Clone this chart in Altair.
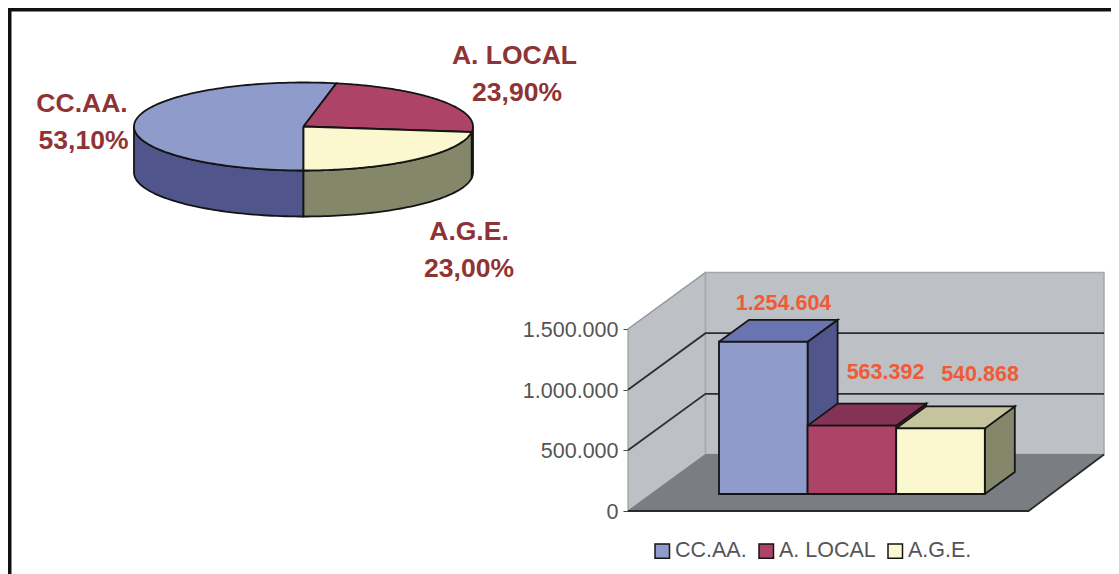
import numpy as np
import pandas as pd
import altair as alt

# ---- values
categories = ["CC.AA.", "A. LOCAL", "A.G.E."]
shares = [53.10, 23.90, 23.00]
amounts = [1254604, 563392, 540868]
axis_ticks = [0, 500000, 1000000, 1500000]

# ---- styles
top_colors = ["#8f9ccb", "#ad4468", "#fbf8cf"]
side_colors = ["#50558c", "#6e2c44", "#85876a"]
bar_top_colors = ["#6a74b0", "#843255", "#c6c49c"]
bar_side_colors = ["#50558c", "#6e2c44", "#85876a"]
INK = "#141414"
FONT = "Liberation Sans"

# ---- layout (page pixels)
W, H = 1103, 566
PIE_CX, PIE_CY, PIE_A, PIE_B, PIE_D = 303.5, 126.5, 169.5, 44, 46
AX_X, AX_TOP, AX_BOTTOM = 628, 329, 511
UNITS_PER_PX = axis_ticks[-1] / (AX_BOTTOM - AX_TOP)
WALL_DX, WALL_DV = 77.5, 56.5 * UNITS_PER_PX
WALL_RIGHT, FLOOR_RIGHT = 1104, 1028.5
BAR_LEFT, BAR_W = 719, 88.6
BAR_BASE = 17 * UNITS_PER_PX
BAR_DX, BAR_DV = 30, 22 * UNITS_PER_PX


def ell(angles, dy=0):
    t = np.radians(np.asarray(angles, dtype=float))
    return list(zip(PIE_CX + PIE_A * np.sin(t), PIE_CY - PIE_B * np.cos(t) + dy))


px_rows, val_rows = [], []


def add(rows, pts, fill, stroke=INK, sw=1.8):
    sid = len({r["shape"] for r in rows})
    for i, (x, y) in enumerate(pts):
        rows.append(dict(shape=f"s{sid:03d}", i=i, px=float(x), py=float(y),
                         fill=fill, stroke=stroke, sw=sw))


# pie: slices start straight down and run clockwise, as in the picture
start = 180.0
edges = [start]
for s in shares:
    edges.append(edges[-1] + s * 3.6)

for k in range(3):
    a0, a1 = edges[k], edges[k + 1]
    # side wall: only the part of the rim in front (90..270 degrees, mod 360)
    for off in (0, 360):
        lo, hi = max(a0, 90 + off), min(a1, 270 + off)
        if hi > lo:
            arc = np.linspace(lo, hi, 60)
            pts = ell(arc) + ell(arc[::-1], PIE_D)
            pts.append(pts[0])
            add(px_rows, pts, side_colors[k])
for k in range(3):
    arc = np.linspace(edges[k], edges[k + 1], 120)
    pts = [(PIE_CX, PIE_CY)] + ell(arc) + [(PIE_CX, PIE_CY)]
    add(px_rows, pts, top_colors[k])

# frame (open on the right and at the bottom)
add(px_rows, [(9.5, 580), (9.5, 9.5), (1125, 9.5)], "transparent", "#111111", 4)
px_rows_df = pd.DataFrame(px_rows)

# walls and floor of the 3-D box
Y1 = axis_ticks[-1]
add(val_rows, [(AX_X, 0), (AX_X, Y1), (AX_X + WALL_DX, Y1 + WALL_DV), (AX_X + WALL_DX, WALL_DV), (AX_X, 0)],
    "#bdc0c4", "#9a9da0", 1.2)
add(val_rows, [(AX_X + WALL_DX, WALL_DV), (AX_X + WALL_DX, Y1 + WALL_DV), (WALL_RIGHT, Y1 + WALL_DV),
               (WALL_RIGHT, WALL_DV), (AX_X + WALL_DX, WALL_DV)], "#bdc0c4", "#a5a8ab", 1.5)
add(val_rows, [(AX_X, 0), (AX_X + WALL_DX, WALL_DV), (WALL_RIGHT, WALL_DV), (FLOOR_RIGHT, 0), (AX_X, 0)],
    "#7a7e82", "#7a7e82", 1)
add(val_rows, [(AX_X, 0), (FLOOR_RIGHT, 0), (WALL_RIGHT, WALL_DV)], "transparent", "#2a2a2a", 1.8)
for t in axis_ticks[1:-1]:
    add(val_rows, [(AX_X, t), (AX_X + WALL_DX, t + WALL_DV), (WALL_RIGHT, t + WALL_DV)],
        "transparent", "#2a2e30", 1.8)
add(val_rows, [(AX_X, Y1), (AX_X + WALL_DX, Y1 + WALL_DV)], "transparent", "#9a9da0", 1.2)

# 3-D faces of the bars, from the amounts
for k, v in enumerate(amounts):
    x0 = BAR_LEFT + k * BAR_W
    x1 = x0 + BAR_W
    b, t = BAR_BASE, BAR_BASE + v
    add(val_rows, [(x1, b), (x1, t), (x1 + BAR_DX, t + BAR_DV), (x1 + BAR_DX, b + BAR_DV), (x1, b)],
        bar_side_colors[k])
    add(val_rows, [(x0, t), (x1, t), (x1 + BAR_DX, t + BAR_DV), (x0 + BAR_DX, t + BAR_DV), (x0, t)],
        bar_top_colors[k])

val_df = pd.DataFrame(val_rows)
bars_df = pd.DataFrame({
    "cat": categories,
    "x0": [BAR_LEFT + k * BAR_W for k in range(3)],
    "x1": [BAR_LEFT + (k + 1) * BAR_W for k in range(3)],
    "y0": [BAR_BASE] * 3,
    "y1": [BAR_BASE + v for v in amounts],
})

# scales
x_px = alt.Scale(domain=[8, 8 + W], range=[0, W])
y_px = alt.Scale(domain=[8, 8 + H], range=[0, H])
y_val = alt.Scale(domain=[0, Y1], range=[AX_BOTTOM - 8, AX_TOP - 8])


def polys(df, yscale):
    return alt.Chart(df).mark_line(clip=False, strokeJoin="miter", interpolate="linear").encode(
        x=alt.X("px:Q", scale=x_px, axis=None),
        y=alt.Y("py:Q", scale=yscale, axis=None),
        detail="shape:N",
        order="i:Q",
        fill=alt.Fill("fill:N", scale=None),
        stroke=alt.Stroke("stroke:N", scale=None),
        strokeWidth=alt.StrokeWidth("sw:Q", scale=None),
    )


fronts = alt.Chart(bars_df).mark_rect(stroke=INK, strokeWidth=1.8).encode(
    x=alt.X("x0:Q", scale=x_px, axis=None),
    x2="x1:Q",
    y=alt.Y("y0:Q", scale=y_val, axis=alt.Axis(
        orient="left", offset=-(AX_X - 8), values=axis_ticks, title=None, grid=False, domain=False,
        tickSize=5, tickColor="#444444", labelFontSize=21.5, labelFont=FONT, labelColor="#555555",
        labelPadding=5, labelOffset=1.5, labelExpr="replace(format(datum.value, ','), /,/g, '.')")),
    y2="y1:Q",
    color=alt.Color("cat:N", sort=None, scale=alt.Scale(domain=categories, range=top_colors),
                    legend=alt.Legend(orient="none", legendX=643.5, legendY=532, direction="horizontal",
                                      columns=3, title=None, symbolType="square", symbolSize=210,
                                      symbolStrokeColor=INK, symbolStrokeWidth=1.5, symbolOpacity=1,
                                      labelFont=FONT, labelFontSize=21.5, labelColor="#555555",
                                      labelOffset=2, columnPadding=8, padding=0)),
)


def pct(v):
    return f"{v:.2f}".replace(".", ",") + "%"


def dotted(v):
    return f"{v:,}".replace(",", ".")


pie_text = pd.DataFrame({
    "t": [categories[0], pct(shares[0]), categories[1], pct(shares[1]), categories[2], pct(shares[2])],
    "px": [82, 83.5, 514.5, 517, 469, 469],
    "py": [104, 141, 56, 93, 232, 269],
})
pie_labels = alt.Chart(pie_text).mark_text(font=FONT, fontWeight="bold", fontSize=26.5, color="#8f3434",
                                           align="center", baseline="middle").encode(
    x=alt.X("px:Q", scale=x_px, axis=None), y=alt.Y("py:Q", scale=y_px, axis=None), text="t:N")

val_text = pd.DataFrame({
    "t": [dotted(v) for v in amounts],
    "px": [783.5, 885.5, 980],
    "py": [304, 372.5, 374.5],
})
val_labels = alt.Chart(val_text).mark_text(font=FONT, fontWeight="bold", fontSize=21.5, color="#ef5b36",
                                           align="center", baseline="middle").encode(
    x=alt.X("px:Q", scale=x_px, axis=None), y=alt.Y("py:Q", scale=y_px, axis=None), text="t:N")

chart = alt.layer(
    polys(px_rows_df, y_px),
    polys(val_df, y_val),
    fronts,
    pie_labels,
    val_labels,
).resolve_scale(y="independent").properties(
    width=W, height=H, padding=0, autosize=alt.AutoSizeParams(type="none"), background="white",
).configure_view(stroke=None)

chart.save("out.html", embed_options={"renderer": "svg", "actions": False})
